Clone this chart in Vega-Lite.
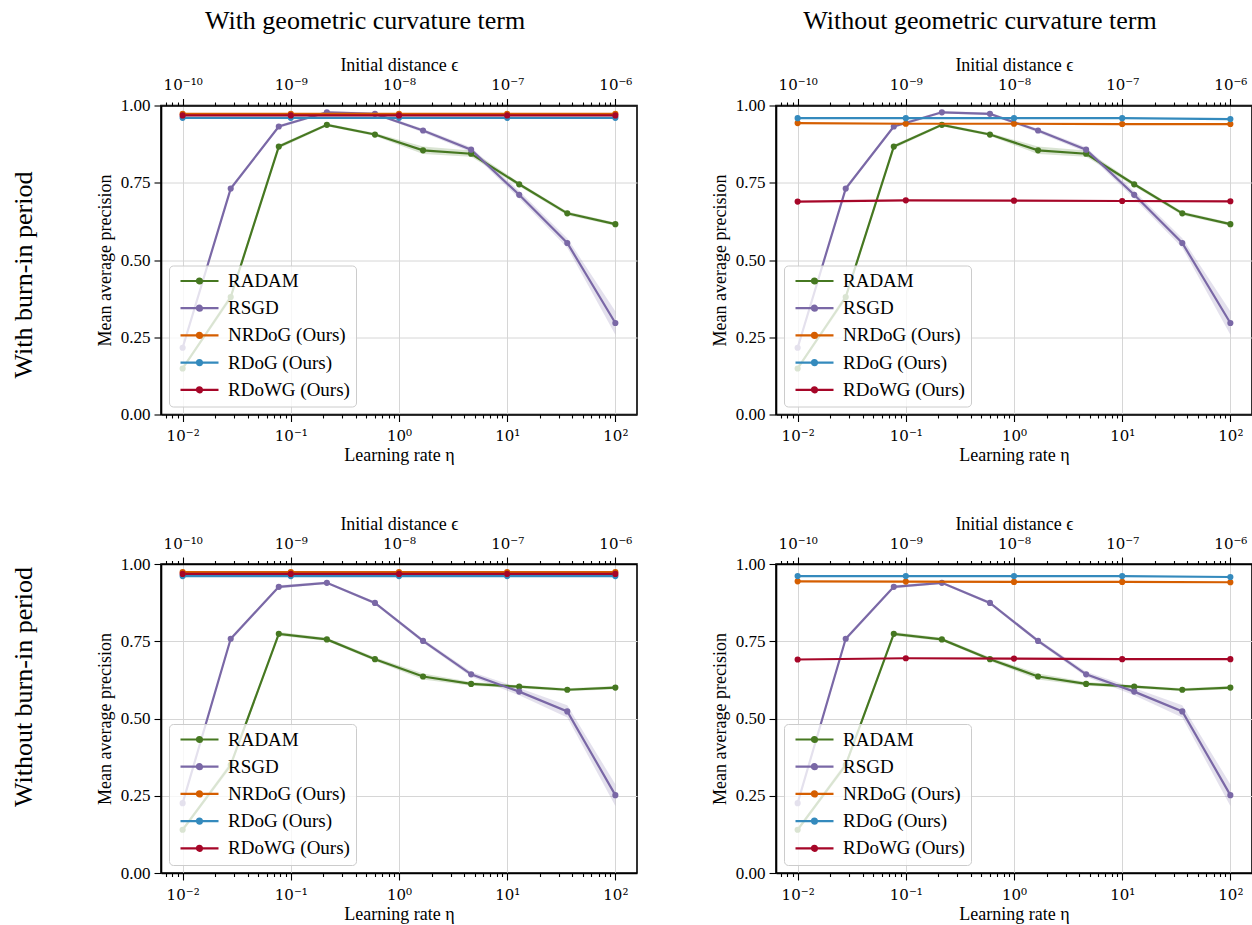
{
  "$schema": "https://vega.github.io/schema/vega-lite/v6.json",
  "padding": {"left": 11, "top": 6.5, "right": 0, "bottom": 0},
  "background": "white",
  "config": {
    "font": "Liberation Serif",
    "view": {"stroke": "black", "strokeWidth": 1.6},
    "axis": {"labelFont": "Liberation Serif", "titleFont": "Liberation Serif", "labelFontSize": 17, "titleFontSize": 18, "titleFontWeight": "normal", "labelColor": "black", "titleColor": "black", "domainColor": "black", "domainWidth": 1.6, "tickColor": "black", "tickWidth": 1.1, "gridColor": "#d6d6d6", "gridWidth": 1},
    "title": {"font": "Liberation Serif", "fontSize": 26, "fontWeight": "normal", "color": "black"}
  },
  "datasets": {
    "eta": [
      {"burn": "with", "method": "RADAM", "lr": 0.01, "y": 0.149, "lo": 0.144, "hi": 0.154},
      {"burn": "with", "method": "RADAM", "lr": 0.027826, "y": 0.38, "lo": 0.37, "hi": 0.39},
      {"burn": "with", "method": "RADAM", "lr": 0.077426, "y": 0.867, "lo": 0.861, "hi": 0.873},
      {"burn": "with", "method": "RADAM", "lr": 0.215443, "y": 0.9375, "lo": 0.933, "hi": 0.942},
      {"burn": "with", "method": "RADAM", "lr": 0.599484, "y": 0.906, "lo": 0.901, "hi": 0.911},
      {"burn": "with", "method": "RADAM", "lr": 1.668101, "y": 0.855, "lo": 0.843, "hi": 0.867},
      {"burn": "with", "method": "RADAM", "lr": 4.641589, "y": 0.844, "lo": 0.834, "hi": 0.854},
      {"burn": "with", "method": "RADAM", "lr": 12.915497, "y": 0.745, "lo": 0.739, "hi": 0.751},
      {"burn": "with", "method": "RADAM", "lr": 35.938137, "y": 0.651, "lo": 0.645, "hi": 0.657},
      {"burn": "with", "method": "RADAM", "lr": 100, "y": 0.616, "lo": 0.611, "hi": 0.621},
      {"burn": "with", "method": "RSGD", "lr": 0.01, "y": 0.216, "lo": 0.21, "hi": 0.222},
      {"burn": "with", "method": "RSGD", "lr": 0.027826, "y": 0.731, "lo": 0.725, "hi": 0.737},
      {"burn": "with", "method": "RSGD", "lr": 0.077426, "y": 0.932, "lo": 0.927, "hi": 0.937},
      {"burn": "with", "method": "RSGD", "lr": 0.215443, "y": 0.978, "lo": 0.974, "hi": 0.982},
      {"burn": "with", "method": "RSGD", "lr": 0.599484, "y": 0.973, "lo": 0.969, "hi": 0.977},
      {"burn": "with", "method": "RSGD", "lr": 1.668101, "y": 0.919, "lo": 0.913, "hi": 0.925},
      {"burn": "with", "method": "RSGD", "lr": 4.641589, "y": 0.857, "lo": 0.849, "hi": 0.865},
      {"burn": "with", "method": "RSGD", "lr": 12.915497, "y": 0.711, "lo": 0.699, "hi": 0.723},
      {"burn": "with", "method": "RSGD", "lr": 35.938137, "y": 0.555, "lo": 0.54, "hi": 0.57},
      {"burn": "with", "method": "RSGD", "lr": 100, "y": 0.296, "lo": 0.258, "hi": 0.334},
      {"burn": "without", "method": "RADAM", "lr": 0.01, "y": 0.14, "lo": 0.135, "hi": 0.145},
      {"burn": "without", "method": "RADAM", "lr": 0.027826, "y": 0.35, "lo": 0.34, "hi": 0.36},
      {"burn": "without", "method": "RADAM", "lr": 0.077426, "y": 0.774, "lo": 0.768, "hi": 0.78},
      {"burn": "without", "method": "RADAM", "lr": 0.215443, "y": 0.756, "lo": 0.751, "hi": 0.761},
      {"burn": "without", "method": "RADAM", "lr": 0.599484, "y": 0.692, "lo": 0.686, "hi": 0.698},
      {"burn": "without", "method": "RADAM", "lr": 1.668101, "y": 0.636, "lo": 0.626, "hi": 0.646},
      {"burn": "without", "method": "RADAM", "lr": 4.641589, "y": 0.612, "lo": 0.606, "hi": 0.618},
      {"burn": "without", "method": "RADAM", "lr": 12.915497, "y": 0.603, "lo": 0.598, "hi": 0.608},
      {"burn": "without", "method": "RADAM", "lr": 35.938137, "y": 0.593, "lo": 0.588, "hi": 0.598},
      {"burn": "without", "method": "RADAM", "lr": 100, "y": 0.6, "lo": 0.595, "hi": 0.605},
      {"burn": "without", "method": "RSGD", "lr": 0.01, "y": 0.226, "lo": 0.22, "hi": 0.232},
      {"burn": "without", "method": "RSGD", "lr": 0.027826, "y": 0.758, "lo": 0.752, "hi": 0.764},
      {"burn": "without", "method": "RSGD", "lr": 0.077426, "y": 0.926, "lo": 0.921, "hi": 0.931},
      {"burn": "without", "method": "RSGD", "lr": 0.215443, "y": 0.939, "lo": 0.935, "hi": 0.943},
      {"burn": "without", "method": "RSGD", "lr": 0.599484, "y": 0.874, "lo": 0.869, "hi": 0.879},
      {"burn": "without", "method": "RSGD", "lr": 1.668101, "y": 0.751, "lo": 0.745, "hi": 0.757},
      {"burn": "without", "method": "RSGD", "lr": 4.641589, "y": 0.643, "lo": 0.635, "hi": 0.651},
      {"burn": "without", "method": "RSGD", "lr": 12.915497, "y": 0.587, "lo": 0.575, "hi": 0.599},
      {"burn": "without", "method": "RSGD", "lr": 35.938137, "y": 0.523, "lo": 0.503, "hi": 0.543},
      {"burn": "without", "method": "RSGD", "lr": 100, "y": 0.252, "lo": 0.217, "hi": 0.287}
    ],
    "eps": [
      {"panel": "A", "method": "NRDoG (Ours)", "eps": 1e-10, "y": 0.973},
      {"panel": "A", "method": "NRDoG (Ours)", "eps": 1e-9, "y": 0.973},
      {"panel": "A", "method": "NRDoG (Ours)", "eps": 1e-8, "y": 0.973},
      {"panel": "A", "method": "NRDoG (Ours)", "eps": 1e-7, "y": 0.973},
      {"panel": "A", "method": "NRDoG (Ours)", "eps": 1e-6, "y": 0.973},
      {"panel": "A", "method": "RDoG (Ours)", "eps": 1e-10, "y": 0.96},
      {"panel": "A", "method": "RDoG (Ours)", "eps": 1e-9, "y": 0.96},
      {"panel": "A", "method": "RDoG (Ours)", "eps": 1e-8, "y": 0.96},
      {"panel": "A", "method": "RDoG (Ours)", "eps": 1e-7, "y": 0.96},
      {"panel": "A", "method": "RDoG (Ours)", "eps": 1e-6, "y": 0.96},
      {"panel": "A", "method": "RDoWG (Ours)", "eps": 1e-10, "y": 0.968},
      {"panel": "A", "method": "RDoWG (Ours)", "eps": 1e-9, "y": 0.968},
      {"panel": "A", "method": "RDoWG (Ours)", "eps": 1e-8, "y": 0.968},
      {"panel": "A", "method": "RDoWG (Ours)", "eps": 1e-7, "y": 0.968},
      {"panel": "A", "method": "RDoWG (Ours)", "eps": 1e-6, "y": 0.968},
      {"panel": "B", "method": "NRDoG (Ours)", "eps": 1e-10, "y": 0.943},
      {"panel": "B", "method": "NRDoG (Ours)", "eps": 1e-9, "y": 0.941},
      {"panel": "B", "method": "NRDoG (Ours)", "eps": 1e-8, "y": 0.941},
      {"panel": "B", "method": "NRDoG (Ours)", "eps": 1e-7, "y": 0.94},
      {"panel": "B", "method": "NRDoG (Ours)", "eps": 1e-6, "y": 0.94},
      {"panel": "B", "method": "RDoG (Ours)", "eps": 1e-10, "y": 0.959},
      {"panel": "B", "method": "RDoG (Ours)", "eps": 1e-9, "y": 0.959},
      {"panel": "B", "method": "RDoG (Ours)", "eps": 1e-8, "y": 0.959},
      {"panel": "B", "method": "RDoG (Ours)", "eps": 1e-7, "y": 0.959},
      {"panel": "B", "method": "RDoG (Ours)", "eps": 1e-6, "y": 0.956},
      {"panel": "B", "method": "RDoWG (Ours)", "eps": 1e-10, "y": 0.689},
      {"panel": "B", "method": "RDoWG (Ours)", "eps": 1e-9, "y": 0.693},
      {"panel": "B", "method": "RDoWG (Ours)", "eps": 1e-8, "y": 0.692},
      {"panel": "B", "method": "RDoWG (Ours)", "eps": 1e-7, "y": 0.691},
      {"panel": "B", "method": "RDoWG (Ours)", "eps": 1e-6, "y": 0.69},
      {"panel": "C", "method": "NRDoG (Ours)", "eps": 1e-10, "y": 0.974},
      {"panel": "C", "method": "NRDoG (Ours)", "eps": 1e-9, "y": 0.974},
      {"panel": "C", "method": "NRDoG (Ours)", "eps": 1e-8, "y": 0.974},
      {"panel": "C", "method": "NRDoG (Ours)", "eps": 1e-7, "y": 0.974},
      {"panel": "C", "method": "NRDoG (Ours)", "eps": 1e-6, "y": 0.974},
      {"panel": "C", "method": "RDoG (Ours)", "eps": 1e-10, "y": 0.961},
      {"panel": "C", "method": "RDoG (Ours)", "eps": 1e-9, "y": 0.961},
      {"panel": "C", "method": "RDoG (Ours)", "eps": 1e-8, "y": 0.961},
      {"panel": "C", "method": "RDoG (Ours)", "eps": 1e-7, "y": 0.961},
      {"panel": "C", "method": "RDoG (Ours)", "eps": 1e-6, "y": 0.961},
      {"panel": "C", "method": "RDoWG (Ours)", "eps": 1e-10, "y": 0.968},
      {"panel": "C", "method": "RDoWG (Ours)", "eps": 1e-9, "y": 0.968},
      {"panel": "C", "method": "RDoWG (Ours)", "eps": 1e-8, "y": 0.968},
      {"panel": "C", "method": "RDoWG (Ours)", "eps": 1e-7, "y": 0.968},
      {"panel": "C", "method": "RDoWG (Ours)", "eps": 1e-6, "y": 0.968},
      {"panel": "D", "method": "NRDoG (Ours)", "eps": 1e-10, "y": 0.944},
      {"panel": "D", "method": "NRDoG (Ours)", "eps": 1e-9, "y": 0.943},
      {"panel": "D", "method": "NRDoG (Ours)", "eps": 1e-8, "y": 0.942},
      {"panel": "D", "method": "NRDoG (Ours)", "eps": 1e-7, "y": 0.942},
      {"panel": "D", "method": "NRDoG (Ours)", "eps": 1e-6, "y": 0.941},
      {"panel": "D", "method": "RDoG (Ours)", "eps": 1e-10, "y": 0.961},
      {"panel": "D", "method": "RDoG (Ours)", "eps": 1e-9, "y": 0.961},
      {"panel": "D", "method": "RDoG (Ours)", "eps": 1e-8, "y": 0.961},
      {"panel": "D", "method": "RDoG (Ours)", "eps": 1e-7, "y": 0.961},
      {"panel": "D", "method": "RDoG (Ours)", "eps": 1e-6, "y": 0.958},
      {"panel": "D", "method": "RDoWG (Ours)", "eps": 1e-10, "y": 0.691},
      {"panel": "D", "method": "RDoWG (Ours)", "eps": 1e-9, "y": 0.695},
      {"panel": "D", "method": "RDoWG (Ours)", "eps": 1e-8, "y": 0.694},
      {"panel": "D", "method": "RDoWG (Ours)", "eps": 1e-7, "y": 0.692},
      {"panel": "D", "method": "RDoWG (Ours)", "eps": 1e-6, "y": 0.692}
    ]
  },
  "spacing": 48.5,
  "resolve": {"scale": {"color": "independent", "x": "independent", "y": "independent"}, "legend": {"color": "independent"}},
  "vconcat": [
    {
      "title": {"text": "With burn-in period", "orient": "left", "anchor": "middle", "offset": 58, "dx": -39},
      "spacing": 72,
      "resolve": {"scale": {"color": "independent", "x": "independent", "y": "independent"}, "legend": {"color": "independent"}},
      "hconcat": [
        {
          "width": 476, "height": 309,
          "title": {"text": "With geometric curvature term", "offset": 23, "dx": -34},
          "resolve": {"scale": {"x": "independent"}},
          "layer": [
            {
              "data": {"name": "eta"},
              "transform": [{"filter": "datum.burn == 'with'"}],
              "encoding": {
                "x": {"field": "lr", "type": "quantitative", "scale": {"type": "log", "domain": [0.0063095734, 158.48932], "nice": false},
                  "axis": {"orient": "bottom", "title": "Learning rate η", "values": [0.007,0.008,0.009,0.01,0.02,0.03,0.04,0.05,0.06,0.07,0.08,0.09,0.1,0.2,0.3,0.4,0.5,0.6,0.7,0.8,0.9,1,2,3,4,5,6,7,8,9,10,20,30,40,50,60,70,80,90,100],
                    "labelExpr": "abs(log(datum.value)/LN10 - round(log(datum.value)/LN10)) < 0.001 ? ['10⁻²','10⁻¹','10⁰','10¹','10²'][round(log(datum.value)/LN10) + 2] : ''",
                    "labelFont": "DejaVu Serif", "labelFontSize": 15,
                    "tickSize": {"condition": {"test": "abs(log(datum.value)/LN10 - round(log(datum.value)/LN10)) < 0.001", "value": 7}, "value": 3.5},
                    "grid": true, "gridOpacity": {"condition": {"test": "abs(log(datum.value)/LN10 - round(log(datum.value)/LN10)) < 0.001", "value": 1}, "value": 0},
                    "labelOverlap": false, "labelFlush": false, "labelPadding": 7, "titlePadding": 3}}
              },
              "layer": [
                {"mark": {"type": "area", "opacity": 0.2},
                 "encoding": {
                   "y": {"field": "lo", "type": "quantitative", "scale": {"domain": [0, 1], "nice": false, "zero": false},
                     "axis": {"title": "Mean average precision", "values": [0, 0.25, 0.5, 0.75, 1], "format": ".2f", "tickSize": 7, "labelPadding": 4, "titlePadding": 6, "grid": true}},
                   "y2": {"field": "hi"},
                   "fill": {"field": "method", "type": "nominal", "scale": {"domain": ["RADAM", "RSGD", "NRDoG (Ours)", "RDoG (Ours)", "RDoWG (Ours)"], "range": ["#467821", "#7A68A6", "#D55E00", "#348ABD", "#A60628"]}, "legend": null}
                 }},
                {"mark": {"type": "line", "strokeWidth": 2.2, "point": {"filled": true, "size": 38}},
                 "encoding": {
                   "y": {"field": "y", "type": "quantitative"},
                   "color": {"field": "method", "type": "nominal", "scale": {"domain": ["RADAM", "RSGD", "NRDoG (Ours)", "RDoG (Ours)", "RDoWG (Ours)"], "range": ["#467821", "#7A68A6", "#D55E00", "#348ABD", "#A60628"]},
                     "legend": {"title": null, "orient": "bottom-left", "offset": 8, "symbolType": "M-0.8,0H6.8M3,-0.5A0.5,0.5 0 1,0 3,0.5A0.5,0.5 0 1,0 3,-0.5M3,-0.2A0.2,0.2 0 1,0 3,0.2A0.2,0.2 0 1,0 3,-0.2", "symbolSize": 100, "symbolStrokeWidth": 2.2, "symbolOpacity": 1, "labelFont": "Liberation Serif", "labelFontSize": 19, "labelColor": "black", "labelOffset": 34, "labelLimit": 400, "rowPadding": 7.2, "padding": 6, "fillColor": "rgba(255,255,255,0.8)", "strokeColor": "#cccccc", "cornerRadius": 4}}
                 }}
              ]
            },
            {
              "data": {"name": "eps"},
              "transform": [{"filter": "datum.panel == 'A'"}],
              "mark": {"type": "line", "strokeWidth": 2.2, "point": {"filled": true, "size": 38}},
              "encoding": {
                "x": {"field": "eps", "type": "quantitative", "scale": {"type": "log", "domain": [6.3095734e-11, 1.5848932e-6], "nice": false},
                  "axis": {"orient": "top", "title": "Initial distance ϵ", "values": [7e-11,8e-11,9e-11,1e-10,2e-10,3e-10,4e-10,5e-10,6e-10,7e-10,8e-10,9e-10,1e-9,2e-9,3e-9,4e-9,5e-9,6e-9,7e-9,8e-9,9e-9,1e-8,2e-8,3e-8,4e-8,5e-8,6e-8,7e-8,8e-8,9e-8,1e-7,2e-7,3e-7,4e-7,5e-7,6e-7,7e-7,8e-7,9e-7,1e-6],
                    "labelExpr": "abs(log(datum.value)/LN10 - round(log(datum.value)/LN10)) < 0.001 ? ['10⁻¹⁰','10⁻⁹','10⁻⁸','10⁻⁷','10⁻⁶'][round(log(datum.value)/LN10) + 10] : ''",
                    "labelFont": "DejaVu Serif", "labelFontSize": 15,
                    "tickSize": {"condition": {"test": "abs(log(datum.value)/LN10 - round(log(datum.value)/LN10)) < 0.001", "value": 7}, "value": 3.5},
                    "grid": false, "labelOverlap": false, "labelFlush": false, "labelPadding": 6, "titlePadding": 3}},
                "y": {"field": "y", "type": "quantitative"},
                "color": {"field": "method", "type": "nominal", "scale": {"domain": ["RADAM", "RSGD", "NRDoG (Ours)", "RDoG (Ours)", "RDoWG (Ours)"], "range": ["#467821", "#7A68A6", "#D55E00", "#348ABD", "#A60628"]},
                  "legend": {"title": null, "orient": "bottom-left", "offset": 8, "symbolType": "M-0.8,0H6.8M3,-0.5A0.5,0.5 0 1,0 3,0.5A0.5,0.5 0 1,0 3,-0.5M3,-0.2A0.2,0.2 0 1,0 3,0.2A0.2,0.2 0 1,0 3,-0.2", "symbolSize": 100, "symbolStrokeWidth": 2.2, "symbolOpacity": 1, "labelFont": "Liberation Serif", "labelFontSize": 19, "labelColor": "black", "labelOffset": 34, "labelLimit": 400, "rowPadding": 7.2, "padding": 6, "fillColor": "rgba(255,255,255,0.8)", "strokeColor": "#cccccc", "cornerRadius": 4}}
              }
            }
          ]
        },
        {
          "width": 476, "height": 309,
          "title": {"text": "Without geometric curvature term", "offset": 23, "dx": -34},
          "resolve": {"scale": {"x": "independent"}},
          "layer": [
            {
              "data": {"name": "eta"},
              "transform": [{"filter": "datum.burn == 'with'"}],
              "encoding": {
                "x": {"field": "lr", "type": "quantitative", "scale": {"type": "log", "domain": [0.0063095734, 158.48932], "nice": false},
                  "axis": {"orient": "bottom", "title": "Learning rate η", "values": [0.007,0.008,0.009,0.01,0.02,0.03,0.04,0.05,0.06,0.07,0.08,0.09,0.1,0.2,0.3,0.4,0.5,0.6,0.7,0.8,0.9,1,2,3,4,5,6,7,8,9,10,20,30,40,50,60,70,80,90,100],
                    "labelExpr": "abs(log(datum.value)/LN10 - round(log(datum.value)/LN10)) < 0.001 ? ['10⁻²','10⁻¹','10⁰','10¹','10²'][round(log(datum.value)/LN10) + 2] : ''",
                    "labelFont": "DejaVu Serif", "labelFontSize": 15,
                    "tickSize": {"condition": {"test": "abs(log(datum.value)/LN10 - round(log(datum.value)/LN10)) < 0.001", "value": 7}, "value": 3.5},
                    "grid": true, "gridOpacity": {"condition": {"test": "abs(log(datum.value)/LN10 - round(log(datum.value)/LN10)) < 0.001", "value": 1}, "value": 0},
                    "labelOverlap": false, "labelFlush": false, "labelPadding": 7, "titlePadding": 3}}
              },
              "layer": [
                {"mark": {"type": "area", "opacity": 0.2},
                 "encoding": {
                   "y": {"field": "lo", "type": "quantitative", "scale": {"domain": [0, 1], "nice": false, "zero": false},
                     "axis": {"title": "Mean average precision", "values": [0, 0.25, 0.5, 0.75, 1], "format": ".2f", "tickSize": 7, "labelPadding": 4, "titlePadding": 6, "grid": true}},
                   "y2": {"field": "hi"},
                   "fill": {"field": "method", "type": "nominal", "scale": {"domain": ["RADAM", "RSGD", "NRDoG (Ours)", "RDoG (Ours)", "RDoWG (Ours)"], "range": ["#467821", "#7A68A6", "#D55E00", "#348ABD", "#A60628"]}, "legend": null}
                 }},
                {"mark": {"type": "line", "strokeWidth": 2.2, "point": {"filled": true, "size": 38}},
                 "encoding": {
                   "y": {"field": "y", "type": "quantitative"},
                   "color": {"field": "method", "type": "nominal", "scale": {"domain": ["RADAM", "RSGD", "NRDoG (Ours)", "RDoG (Ours)", "RDoWG (Ours)"], "range": ["#467821", "#7A68A6", "#D55E00", "#348ABD", "#A60628"]},
                     "legend": {"title": null, "orient": "bottom-left", "offset": 8, "symbolType": "M-0.8,0H6.8M3,-0.5A0.5,0.5 0 1,0 3,0.5A0.5,0.5 0 1,0 3,-0.5M3,-0.2A0.2,0.2 0 1,0 3,0.2A0.2,0.2 0 1,0 3,-0.2", "symbolSize": 100, "symbolStrokeWidth": 2.2, "symbolOpacity": 1, "labelFont": "Liberation Serif", "labelFontSize": 19, "labelColor": "black", "labelOffset": 34, "labelLimit": 400, "rowPadding": 7.2, "padding": 6, "fillColor": "rgba(255,255,255,0.8)", "strokeColor": "#cccccc", "cornerRadius": 4}}
                 }}
              ]
            },
            {
              "data": {"name": "eps"},
              "transform": [{"filter": "datum.panel == 'B'"}],
              "mark": {"type": "line", "strokeWidth": 2.2, "point": {"filled": true, "size": 38}},
              "encoding": {
                "x": {"field": "eps", "type": "quantitative", "scale": {"type": "log", "domain": [6.3095734e-11, 1.5848932e-6], "nice": false},
                  "axis": {"orient": "top", "title": "Initial distance ϵ", "values": [7e-11,8e-11,9e-11,1e-10,2e-10,3e-10,4e-10,5e-10,6e-10,7e-10,8e-10,9e-10,1e-9,2e-9,3e-9,4e-9,5e-9,6e-9,7e-9,8e-9,9e-9,1e-8,2e-8,3e-8,4e-8,5e-8,6e-8,7e-8,8e-8,9e-8,1e-7,2e-7,3e-7,4e-7,5e-7,6e-7,7e-7,8e-7,9e-7,1e-6],
                    "labelExpr": "abs(log(datum.value)/LN10 - round(log(datum.value)/LN10)) < 0.001 ? ['10⁻¹⁰','10⁻⁹','10⁻⁸','10⁻⁷','10⁻⁶'][round(log(datum.value)/LN10) + 10] : ''",
                    "labelFont": "DejaVu Serif", "labelFontSize": 15,
                    "tickSize": {"condition": {"test": "abs(log(datum.value)/LN10 - round(log(datum.value)/LN10)) < 0.001", "value": 7}, "value": 3.5},
                    "grid": false, "labelOverlap": false, "labelFlush": false, "labelPadding": 6, "titlePadding": 3}},
                "y": {"field": "y", "type": "quantitative"},
                "color": {"field": "method", "type": "nominal", "scale": {"domain": ["RADAM", "RSGD", "NRDoG (Ours)", "RDoG (Ours)", "RDoWG (Ours)"], "range": ["#467821", "#7A68A6", "#D55E00", "#348ABD", "#A60628"]},
                  "legend": {"title": null, "orient": "bottom-left", "offset": 8, "symbolType": "M-0.8,0H6.8M3,-0.5A0.5,0.5 0 1,0 3,0.5A0.5,0.5 0 1,0 3,-0.5M3,-0.2A0.2,0.2 0 1,0 3,0.2A0.2,0.2 0 1,0 3,-0.2", "symbolSize": 100, "symbolStrokeWidth": 2.2, "symbolOpacity": 1, "labelFont": "Liberation Serif", "labelFontSize": 19, "labelColor": "black", "labelOffset": 34, "labelLimit": 400, "rowPadding": 7.2, "padding": 6, "fillColor": "rgba(255,255,255,0.8)", "strokeColor": "#cccccc", "cornerRadius": 4}}
              }
            }
          ]
        }
      ]
    },
    {
      "title": {"text": "Without burn-in period", "orient": "left", "anchor": "middle", "offset": 58, "dx": 32},
      "spacing": 72,
      "resolve": {"scale": {"color": "independent", "x": "independent", "y": "independent"}, "legend": {"color": "independent"}},
      "hconcat": [
        {
          "width": 476, "height": 309,
          "resolve": {"scale": {"x": "independent"}},
          "layer": [
            {
              "data": {"name": "eta"},
              "transform": [{"filter": "datum.burn == 'without'"}],
              "encoding": {
                "x": {"field": "lr", "type": "quantitative", "scale": {"type": "log", "domain": [0.0063095734, 158.48932], "nice": false},
                  "axis": {"orient": "bottom", "title": "Learning rate η", "values": [0.007,0.008,0.009,0.01,0.02,0.03,0.04,0.05,0.06,0.07,0.08,0.09,0.1,0.2,0.3,0.4,0.5,0.6,0.7,0.8,0.9,1,2,3,4,5,6,7,8,9,10,20,30,40,50,60,70,80,90,100],
                    "labelExpr": "abs(log(datum.value)/LN10 - round(log(datum.value)/LN10)) < 0.001 ? ['10⁻²','10⁻¹','10⁰','10¹','10²'][round(log(datum.value)/LN10) + 2] : ''",
                    "labelFont": "DejaVu Serif", "labelFontSize": 15,
                    "tickSize": {"condition": {"test": "abs(log(datum.value)/LN10 - round(log(datum.value)/LN10)) < 0.001", "value": 7}, "value": 3.5},
                    "grid": true, "gridOpacity": {"condition": {"test": "abs(log(datum.value)/LN10 - round(log(datum.value)/LN10)) < 0.001", "value": 1}, "value": 0},
                    "labelOverlap": false, "labelFlush": false, "labelPadding": 7, "titlePadding": 3}}
              },
              "layer": [
                {"mark": {"type": "area", "opacity": 0.2},
                 "encoding": {
                   "y": {"field": "lo", "type": "quantitative", "scale": {"domain": [0, 1], "nice": false, "zero": false},
                     "axis": {"title": "Mean average precision", "values": [0, 0.25, 0.5, 0.75, 1], "format": ".2f", "tickSize": 7, "labelPadding": 4, "titlePadding": 6, "grid": true}},
                   "y2": {"field": "hi"},
                   "fill": {"field": "method", "type": "nominal", "scale": {"domain": ["RADAM", "RSGD", "NRDoG (Ours)", "RDoG (Ours)", "RDoWG (Ours)"], "range": ["#467821", "#7A68A6", "#D55E00", "#348ABD", "#A60628"]}, "legend": null}
                 }},
                {"mark": {"type": "line", "strokeWidth": 2.2, "point": {"filled": true, "size": 38}},
                 "encoding": {
                   "y": {"field": "y", "type": "quantitative"},
                   "color": {"field": "method", "type": "nominal", "scale": {"domain": ["RADAM", "RSGD", "NRDoG (Ours)", "RDoG (Ours)", "RDoWG (Ours)"], "range": ["#467821", "#7A68A6", "#D55E00", "#348ABD", "#A60628"]},
                     "legend": {"title": null, "orient": "bottom-left", "offset": 8, "symbolType": "M-0.8,0H6.8M3,-0.5A0.5,0.5 0 1,0 3,0.5A0.5,0.5 0 1,0 3,-0.5M3,-0.2A0.2,0.2 0 1,0 3,0.2A0.2,0.2 0 1,0 3,-0.2", "symbolSize": 100, "symbolStrokeWidth": 2.2, "symbolOpacity": 1, "labelFont": "Liberation Serif", "labelFontSize": 19, "labelColor": "black", "labelOffset": 34, "labelLimit": 400, "rowPadding": 7.2, "padding": 6, "fillColor": "rgba(255,255,255,0.8)", "strokeColor": "#cccccc", "cornerRadius": 4}}
                 }}
              ]
            },
            {
              "data": {"name": "eps"},
              "transform": [{"filter": "datum.panel == 'C'"}],
              "mark": {"type": "line", "strokeWidth": 2.2, "point": {"filled": true, "size": 38}},
              "encoding": {
                "x": {"field": "eps", "type": "quantitative", "scale": {"type": "log", "domain": [6.3095734e-11, 1.5848932e-6], "nice": false},
                  "axis": {"orient": "top", "title": "Initial distance ϵ", "values": [7e-11,8e-11,9e-11,1e-10,2e-10,3e-10,4e-10,5e-10,6e-10,7e-10,8e-10,9e-10,1e-9,2e-9,3e-9,4e-9,5e-9,6e-9,7e-9,8e-9,9e-9,1e-8,2e-8,3e-8,4e-8,5e-8,6e-8,7e-8,8e-8,9e-8,1e-7,2e-7,3e-7,4e-7,5e-7,6e-7,7e-7,8e-7,9e-7,1e-6],
                    "labelExpr": "abs(log(datum.value)/LN10 - round(log(datum.value)/LN10)) < 0.001 ? ['10⁻¹⁰','10⁻⁹','10⁻⁸','10⁻⁷','10⁻⁶'][round(log(datum.value)/LN10) + 10] : ''",
                    "labelFont": "DejaVu Serif", "labelFontSize": 15,
                    "tickSize": {"condition": {"test": "abs(log(datum.value)/LN10 - round(log(datum.value)/LN10)) < 0.001", "value": 7}, "value": 3.5},
                    "grid": false, "labelOverlap": false, "labelFlush": false, "labelPadding": 6, "titlePadding": 3}},
                "y": {"field": "y", "type": "quantitative"},
                "color": {"field": "method", "type": "nominal", "scale": {"domain": ["RADAM", "RSGD", "NRDoG (Ours)", "RDoG (Ours)", "RDoWG (Ours)"], "range": ["#467821", "#7A68A6", "#D55E00", "#348ABD", "#A60628"]},
                  "legend": {"title": null, "orient": "bottom-left", "offset": 8, "symbolType": "M-0.8,0H6.8M3,-0.5A0.5,0.5 0 1,0 3,0.5A0.5,0.5 0 1,0 3,-0.5M3,-0.2A0.2,0.2 0 1,0 3,0.2A0.2,0.2 0 1,0 3,-0.2", "symbolSize": 100, "symbolStrokeWidth": 2.2, "symbolOpacity": 1, "labelFont": "Liberation Serif", "labelFontSize": 19, "labelColor": "black", "labelOffset": 34, "labelLimit": 400, "rowPadding": 7.2, "padding": 6, "fillColor": "rgba(255,255,255,0.8)", "strokeColor": "#cccccc", "cornerRadius": 4}}
              }
            }
          ]
        },
        {
          "width": 476, "height": 309,
          "resolve": {"scale": {"x": "independent"}},
          "layer": [
            {
              "data": {"name": "eta"},
              "transform": [{"filter": "datum.burn == 'without'"}],
              "encoding": {
                "x": {"field": "lr", "type": "quantitative", "scale": {"type": "log", "domain": [0.0063095734, 158.48932], "nice": false},
                  "axis": {"orient": "bottom", "title": "Learning rate η", "values": [0.007,0.008,0.009,0.01,0.02,0.03,0.04,0.05,0.06,0.07,0.08,0.09,0.1,0.2,0.3,0.4,0.5,0.6,0.7,0.8,0.9,1,2,3,4,5,6,7,8,9,10,20,30,40,50,60,70,80,90,100],
                    "labelExpr": "abs(log(datum.value)/LN10 - round(log(datum.value)/LN10)) < 0.001 ? ['10⁻²','10⁻¹','10⁰','10¹','10²'][round(log(datum.value)/LN10) + 2] : ''",
                    "labelFont": "DejaVu Serif", "labelFontSize": 15,
                    "tickSize": {"condition": {"test": "abs(log(datum.value)/LN10 - round(log(datum.value)/LN10)) < 0.001", "value": 7}, "value": 3.5},
                    "grid": true, "gridOpacity": {"condition": {"test": "abs(log(datum.value)/LN10 - round(log(datum.value)/LN10)) < 0.001", "value": 1}, "value": 0},
                    "labelOverlap": false, "labelFlush": false, "labelPadding": 7, "titlePadding": 3}}
              },
              "layer": [
                {"mark": {"type": "area", "opacity": 0.2},
                 "encoding": {
                   "y": {"field": "lo", "type": "quantitative", "scale": {"domain": [0, 1], "nice": false, "zero": false},
                     "axis": {"title": "Mean average precision", "values": [0, 0.25, 0.5, 0.75, 1], "format": ".2f", "tickSize": 7, "labelPadding": 4, "titlePadding": 6, "grid": true}},
                   "y2": {"field": "hi"},
                   "fill": {"field": "method", "type": "nominal", "scale": {"domain": ["RADAM", "RSGD", "NRDoG (Ours)", "RDoG (Ours)", "RDoWG (Ours)"], "range": ["#467821", "#7A68A6", "#D55E00", "#348ABD", "#A60628"]}, "legend": null}
                 }},
                {"mark": {"type": "line", "strokeWidth": 2.2, "point": {"filled": true, "size": 38}},
                 "encoding": {
                   "y": {"field": "y", "type": "quantitative"},
                   "color": {"field": "method", "type": "nominal", "scale": {"domain": ["RADAM", "RSGD", "NRDoG (Ours)", "RDoG (Ours)", "RDoWG (Ours)"], "range": ["#467821", "#7A68A6", "#D55E00", "#348ABD", "#A60628"]},
                     "legend": {"title": null, "orient": "bottom-left", "offset": 8, "symbolType": "M-0.8,0H6.8M3,-0.5A0.5,0.5 0 1,0 3,0.5A0.5,0.5 0 1,0 3,-0.5M3,-0.2A0.2,0.2 0 1,0 3,0.2A0.2,0.2 0 1,0 3,-0.2", "symbolSize": 100, "symbolStrokeWidth": 2.2, "symbolOpacity": 1, "labelFont": "Liberation Serif", "labelFontSize": 19, "labelColor": "black", "labelOffset": 34, "labelLimit": 400, "rowPadding": 7.2, "padding": 6, "fillColor": "rgba(255,255,255,0.8)", "strokeColor": "#cccccc", "cornerRadius": 4}}
                 }}
              ]
            },
            {
              "data": {"name": "eps"},
              "transform": [{"filter": "datum.panel == 'D'"}],
              "mark": {"type": "line", "strokeWidth": 2.2, "point": {"filled": true, "size": 38}},
              "encoding": {
                "x": {"field": "eps", "type": "quantitative", "scale": {"type": "log", "domain": [6.3095734e-11, 1.5848932e-6], "nice": false},
                  "axis": {"orient": "top", "title": "Initial distance ϵ", "values": [7e-11,8e-11,9e-11,1e-10,2e-10,3e-10,4e-10,5e-10,6e-10,7e-10,8e-10,9e-10,1e-9,2e-9,3e-9,4e-9,5e-9,6e-9,7e-9,8e-9,9e-9,1e-8,2e-8,3e-8,4e-8,5e-8,6e-8,7e-8,8e-8,9e-8,1e-7,2e-7,3e-7,4e-7,5e-7,6e-7,7e-7,8e-7,9e-7,1e-6],
                    "labelExpr": "abs(log(datum.value)/LN10 - round(log(datum.value)/LN10)) < 0.001 ? ['10⁻¹⁰','10⁻⁹','10⁻⁸','10⁻⁷','10⁻⁶'][round(log(datum.value)/LN10) + 10] : ''",
                    "labelFont": "DejaVu Serif", "labelFontSize": 15,
                    "tickSize": {"condition": {"test": "abs(log(datum.value)/LN10 - round(log(datum.value)/LN10)) < 0.001", "value": 7}, "value": 3.5},
                    "grid": false, "labelOverlap": false, "labelFlush": false, "labelPadding": 6, "titlePadding": 3}},
                "y": {"field": "y", "type": "quantitative"},
                "color": {"field": "method", "type": "nominal", "scale": {"domain": ["RADAM", "RSGD", "NRDoG (Ours)", "RDoG (Ours)", "RDoWG (Ours)"], "range": ["#467821", "#7A68A6", "#D55E00", "#348ABD", "#A60628"]},
                  "legend": {"title": null, "orient": "bottom-left", "offset": 8, "symbolType": "M-0.8,0H6.8M3,-0.5A0.5,0.5 0 1,0 3,0.5A0.5,0.5 0 1,0 3,-0.5M3,-0.2A0.2,0.2 0 1,0 3,0.2A0.2,0.2 0 1,0 3,-0.2", "symbolSize": 100, "symbolStrokeWidth": 2.2, "symbolOpacity": 1, "labelFont": "Liberation Serif", "labelFontSize": 19, "labelColor": "black", "labelOffset": 34, "labelLimit": 400, "rowPadding": 7.2, "padding": 6, "fillColor": "rgba(255,255,255,0.8)", "strokeColor": "#cccccc", "cornerRadius": 4}}
              }
            }
          ]
        }
      ]
    }
  ]
}
